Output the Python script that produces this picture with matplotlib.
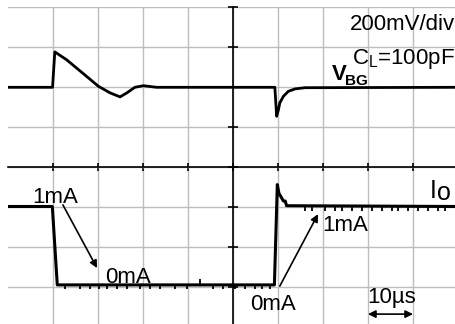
import matplotlib
matplotlib.use("Agg")
import matplotlib.pyplot as plt
import numpy as np

plt.rcParams['font.family'] = ['Liberation Sans', 'DejaVu Sans']
plt.rcParams['mathtext.fontset'] = 'custom'
plt.rcParams['mathtext.rm'] = 'Liberation Sans'
plt.rcParams['mathtext.bf'] = 'Liberation Sans:bold'

# V_BG trace: time (us) and deviation from its resting level (mV)
vbg_t = [0, 9.9, 10.4, 13.0, 16.7, 20.1, 22.7, 24.9, 26.4, 28.2, 30.1, 33.0,
         59.3, 59.7, 60.1, 60.4, 61.2, 62.3, 63.8, 66.0, 100]
vbg_mv = [0, 0, 177, 138, 69, 5, -28, -48, -28, 0, 8, 0,
          0, -145, -112, -78, -45, -20, -8, -2, 0]

# load current I_O (mA)
io_t = [0, 9.85, 10.95, 59.2, 59.85, 60.2, 60.8, 61.2, 61.6, 61.9, 100]
io_ma = [1.0, 1.0, 0.0, 0.0, 1.28, 1.17, 1.11, 1.07, 1.07, 1.01, 1.0]

# small glitches on the current trace (us)
glitch_low_t = [12.7, 16.0, 18.2, 20.2, 22.0, 24.2, 26.4, 29.3, 31.6, 33.8, 37.1,
                39.8, 45.6, 47.8, 50.4, 52.7, 54.9, 56.4, 58.2]
glitch_high_t = [66.0, 67.6, 70.4, 72.7, 74.2, 76.4, 78.7, 80.9, 83.1, 85.3, 86.7,
                 88.9, 91.1, 93.3, 95.6, 97.1]

# screen placement (divisions), 200 mV/div and ~0.5 mA/div
VBG_LEVEL = 1.98
IO_ZERO = -2.96
IO_PER_MA = 1.96

vbg_div = VBG_LEVEL + np.array(vbg_mv) / 200.0
io_div = IO_ZERO + IO_PER_MA * np.array(io_ma)

fig = plt.figure(figsize=(4.55, 3.24), dpi=100)
ax = fig.add_axes([8 / 455, -2.5 / 324, 450 / 455, 320 / 324])
ax.set_xlim(0, 100)
ax.set_ylim(-4, 4)

# scope graticule
ax.set_xticks(np.arange(10, 101, 10))
ax.set_yticks(np.arange(-4, 5, 1))
ax.grid(True, color='#bdbdbd', lw=1.0)
ax.set_axisbelow(True)
for s in ['top', 'right']:
    ax.spines[s].set_visible(False)
ax.spines['left'].set_position(('data', 50))
ax.spines['bottom'].set_position(('data', 0))
ax.spines['left'].set_linewidth(1.2)
ax.spines['bottom'].set_linewidth(1.2)
ax.tick_params(axis='y', direction='inout', length=7.2, width=1.2,
               labelleft=False)
ax.tick_params(axis='x', direction='inout', length=5.8, width=1.2,
               labelbottom=False)

# traces
ax.plot(vbg_t, vbg_div, color='black', lw=2.0, zorder=3)
ax.plot(io_t, io_div, color='black', lw=2.2, zorder=3)
lo = IO_ZERO
hi = IO_ZERO + IO_PER_MA
ax.vlines(glitch_low_t, lo - 0.1, lo, color='black', lw=1.3, zorder=3)
ax.vlines(glitch_high_t, hi - 0.1, hi, color='black', lw=1.3, zorder=3)
ax.vlines([42.7], lo, lo + 0.15, color='black', lw=1.3, zorder=3)

# labels
fs = 16
ax.text(99.3, 3.41, '200mV/div', ha='right', va='baseline', fontsize=fs)
ax.text(99.3, 2.56, r'C$_\mathregular{L}$=100pF', ha='right', va='baseline',
        fontsize=fs)
ax.text(72.0, 2.16, 'V', ha='left', va='baseline', fontsize=16,
        fontweight='bold')
ax.text(75.0, 2.05, 'BG', ha='left', va='baseline', fontsize=11,
        fontweight='bold')
ax.text(93.8, -0.79, 'I', ha='left', va='baseline', fontsize=18)
ax.text(95.3, -0.84, 'o', ha='left', va='baseline', fontsize=18)

ax.text(5.3, -0.91, '1mA', ha='left', va='baseline', fontsize=fs)
ax.text(21.6, -2.91, '0mA', ha='left', va='baseline', fontsize=fs)
ax.text(69.8, -1.61, '1mA', ha='left', va='baseline', fontsize=fs)
ax.text(53.8, -3.59, '0mA', ha='left', va='baseline', fontsize=fs)
ax.text(79.8, -3.41, '10µs', ha='left', va='baseline', fontsize=fs)

arrow = dict(arrowstyle='-|>', color='black', lw=1.2, mutation_scale=11,
             shrinkA=0, shrinkB=0)
ax.annotate('', xy=(19.8, -2.54), xytext=(12.2, -0.96), arrowprops=arrow)
ax.annotate('', xy=(68.9, -1.19), xytext=(60.4, -2.99), arrowprops=arrow)
ax.annotate('', xy=(90, -3.69), xytext=(80, -3.69),
            arrowprops=dict(arrowstyle='<|-|>', color='black', lw=1.2,
                            mutation_scale=11, shrinkA=0, shrinkB=0))

fig.savefig('out.png', dpi=100)
